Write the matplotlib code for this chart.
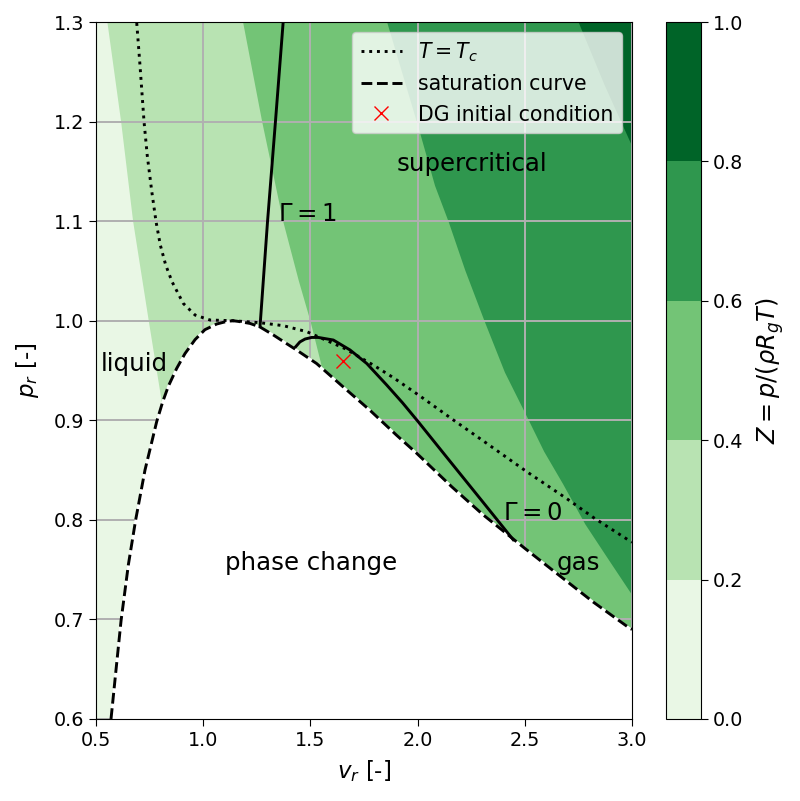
import numpy as np
import matplotlib
matplotlib.use("Agg")
import matplotlib.pyplot as plt
from matplotlib.colors import BoundaryNorm, ListedColormap
from matplotlib.cm import ScalarMappable

## DATA
z_levels = [0.0, 0.2, 0.4, 0.6, 0.8, 1.0]

# contour boundaries (the last points of the first two are hidden under the white dome)
z02_v = [0.551, 0.615, 0.671, 0.744, 0.806, 0.90]
z02_p = [1.300, 1.200, 1.100, 1.000, 0.917, 0.60]
z04_v = [1.184, 1.273, 1.371, 1.443, 1.498, 1.548, 1.70]
z04_p = [1.300, 1.200, 1.100, 1.041, 1.000, 0.957, 0.60]
z06_v = [1.856, 2.008, 2.079, 2.143, 2.220, 2.310, 2.405, 2.509, 2.588, 2.676, 2.780, 2.881, 3.000]
z06_p = [1.300, 1.190, 1.136, 1.0995, 1.051, 1.000, 0.9485, 0.9036, 0.869, 0.8365, 0.796, 0.763, 0.7245]
z08_v = [2.749, 2.870, 3.000]
z08_p = [1.300, 1.237, 1.175]

# saturation curve
sat_v = [0.570, 0.5965, 0.617, 0.651, 0.685, 0.7285, 0.783, 0.811, 0.837, 0.876, 0.915, 0.962, 1.008, 1.063,
         1.110, 1.139, 1.164, 1.218, 1.265, 1.327, 1.389, 1.436, 1.529, 1.661, 1.778, 1.902, 1.996, 2.159,
         2.306, 2.500, 2.649, 2.819, 2.990, 3.000]
sat_p = [0.600, 0.656, 0.699, 0.755, 0.800, 0.850, 0.8986, 0.9185, 0.934, 0.952, 0.967, 0.981, 0.991, 0.9967,
         0.9993, 1.000, 0.9993, 0.9973, 0.9937, 0.9857, 0.977, 0.9705, 0.957, 0.932, 0.910, 0.885, 0.8668, 0.8333,
         0.805, 0.7714, 0.7462, 0.7175, 0.691, 0.690]

# critical isotherm
tc_v = [0.690, 0.705, 0.724, 0.739, 0.760, 0.780, 0.800, 0.825, 0.855, 0.907, 0.962, 1.032, 1.139, 1.265, 1.374,
        1.483, 1.661, 1.793, 1.887, 2.011, 2.167, 2.322, 2.509, 2.695, 2.827, 2.990, 3.000]
tc_p = [1.299, 1.257, 1.200, 1.166, 1.130, 1.0995, 1.076, 1.056, 1.039, 1.0174, 1.0057, 1.0007, 1.000, 0.998, 0.995,
        0.989, 0.972, 0.9555, 0.9428, 0.9244, 0.9003, 0.8769, 0.8484, 0.8214, 0.8013, 0.7788, 0.7775]

# Gamma lines
g1_v = [1.265, 1.300, 1.337, 1.373]
g1_p = [0.994, 1.0995, 1.200, 1.300]
g0_v = [1.432, 1.451, 1.475, 1.506, 1.537, 1.607, 1.685, 1.763, 1.856, 1.930, 2.003, 2.128, 2.306, 2.446]
g0_p = [0.974, 0.9787, 0.9816, 0.9832, 0.9832, 0.9806, 0.9706, 0.957, 0.9354, 0.9175, 0.8985, 0.865, 0.8175, 0.780]

dg_v = [1.65]
dg_p = [0.96]

## DOING THE GRAPH
plt.rcParams["font.size"] = 13.75
plt.rcParams["xtick.major.size"] = 4.8
plt.rcParams["ytick.major.size"] = 4.8
fig = plt.figure(figsize=(8, 8.01), dpi=100)
ax = fig.add_axes([96 / 800, 82 / 801, 536 / 800, 697 / 801])
cax = fig.add_axes([666 / 800, 82 / 801, 35 / 800, 697 / 801])

mids = [(a + b) / 2 for a, b in zip(z_levels[:-1], z_levels[1:])]
colors = plt.get_cmap("Greens")(mids)

ax.set_facecolor(colors[0])
for (bv, bp), col in zip([(z02_v, z02_p), (z04_v, z04_p), (z06_v, z06_p), (z08_v, z08_p)], colors[1:]):
    ax.fill_betweenx(bp, bv, 3.0, color=col, lw=0, zorder=0.5)

ax.fill_between(sat_v, 0.0, sat_p, facecolor="white", edgecolor="white", lw=1.5, zorder=1.8)

ax.set_axisbelow("line")
ax.grid(True, lw=1.4)

ax.plot(tc_v, tc_p, "k:", lw=2.1, label="$T = T_c$", zorder=3)
ax.plot(sat_v, sat_p, "k--", lw=2.1, label="saturation curve", zorder=3)
ax.plot(g1_v, g1_p, "k-", lw=2.1, zorder=3)
ax.plot(g0_v, g0_p, "k-", lw=2.1, zorder=3)
ax.plot(dg_v, dg_p, "x", color="red", ms=9.5, ls="none", label="DG initial condition", zorder=3.5)

ax.text(1.10, 0.75, "phase change", fontsize=17.6)
ax.text(2.65, 0.75, "gas", fontsize=17.6)
ax.text(0.52, 0.95, "liquid", fontsize=17.6)
ax.text(1.90, 1.15, "supercritical", fontsize=17.6)
ax.text(1.35, 1.10, r"$\Gamma = 1$", fontsize=17.6)
ax.text(2.40, 0.80, r"$\Gamma = 0$", fontsize=17.6)

ax.set_xlim(0.5, 3.0)
ax.set_ylim(0.6, 1.3)
ax.set_xticks([0.5, 1.0, 1.5, 2.0, 2.5, 3.0])
ax.set_yticks([0.6, 0.7, 0.8, 0.9, 1.0, 1.1, 1.2, 1.3])
ax.set_xlabel("$v_r$ [-]", fontsize=16.5, labelpad=6)
ax.set_ylabel("$p_r$ [-]", fontsize=16.5, labelpad=9.5)
ax.legend(loc="upper right", fontsize=14.8).set_zorder(5)

sm = ScalarMappable(norm=BoundaryNorm(z_levels, 5), cmap=ListedColormap(colors))
cb = fig.colorbar(sm, cax=cax, ticks=z_levels)
cb.set_label(r"$Z = p/(\rho R_g T)$", fontsize=17.3, labelpad=8)

plt.savefig("out.png", dpi=100)
